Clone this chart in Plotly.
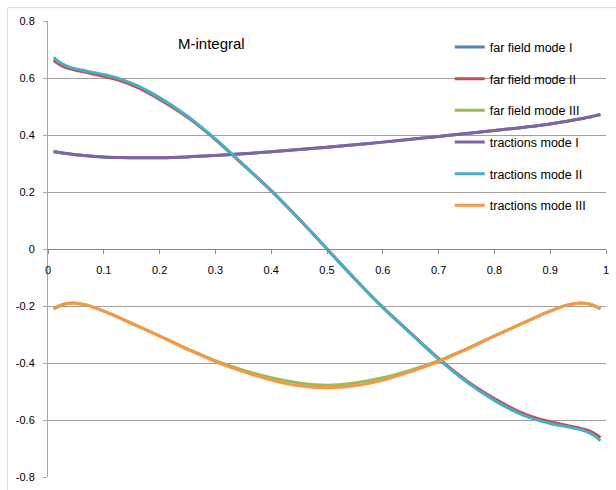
import plotly.graph_objects as go

x = [0.01, 0.02, 0.03, 0.04, 0.05, 0.07, 0.10, 0.13, 0.16, 0.20, 0.25, 0.30, 0.35, 0.40, 0.45,
     0.50, 0.55, 0.60, 0.65, 0.70, 0.75, 0.80, 0.84, 0.87, 0.90, 0.93, 0.95, 0.96, 0.97, 0.98, 0.99]

far_field_I = [0.341, 0.339, 0.336, 0.333, 0.331, 0.327, 0.323, 0.321, 0.320, 0.320, 0.323, 0.328, 0.334, 0.341, 0.349,
               0.357, 0.366, 0.375, 0.385, 0.395, 0.405, 0.416, 0.424, 0.431, 0.439, 0.448, 0.455, 0.459, 0.463, 0.467, 0.472]
tractions_I = [0.341, 0.339, 0.336, 0.333, 0.331, 0.327, 0.323, 0.321, 0.320, 0.320, 0.323, 0.328, 0.334, 0.341, 0.349,
               0.357, 0.366, 0.375, 0.385, 0.395, 0.405, 0.416, 0.424, 0.431, 0.439, 0.448, 0.455, 0.459, 0.463, 0.467, 0.472]

far_field_II = [0.662, 0.648, 0.638, 0.632, 0.627, 0.619, 0.606, 0.590, 0.567, 0.525, 0.462, 0.384, 0.295, 0.205, 0.105,
                0.0, -0.105, -0.205, -0.295, -0.384, -0.462, -0.525, -0.567, -0.590, -0.606, -0.619, -0.627, -0.632, -0.638, -0.648, -0.662]
tractions_II = [0.672, 0.656, 0.645, 0.637, 0.632, 0.624, 0.612, 0.596, 0.573, 0.531, 0.466, 0.386, 0.296, 0.205, 0.105,
                0.0, -0.105, -0.205, -0.296, -0.386, -0.466, -0.531, -0.573, -0.596, -0.612, -0.624, -0.632, -0.637, -0.645, -0.656, -0.672]

far_field_III = [-0.210, -0.200, -0.193, -0.190, -0.190, -0.197, -0.218, -0.243, -0.270, -0.305, -0.350, -0.392, -0.425, -0.452, -0.470,
                 -0.478, -0.470, -0.452, -0.425, -0.392, -0.350, -0.305, -0.270, -0.243, -0.218, -0.197, -0.190, -0.190, -0.193, -0.200, -0.210]
tractions_III = [-0.210, -0.200, -0.193, -0.190, -0.190, -0.197, -0.218, -0.243, -0.270, -0.306, -0.352, -0.395, -0.430, -0.460, -0.480,
                 -0.487, -0.480, -0.460, -0.430, -0.395, -0.352, -0.306, -0.270, -0.243, -0.218, -0.197, -0.190, -0.190, -0.193, -0.200, -0.210]

names = ["far field mode I", "far field mode II", "far field mode III",
         "tractions mode I", "tractions mode II", "tractions mode III"]
series = [far_field_I, far_field_II, far_field_III, tractions_I, tractions_II, tractions_III]
colors = ["#4F81BD", "#C0504D", "#9BBB59", "#8064A2", "#4BACC6", "#F79646"]

x_ticks = [0, 0.1, 0.2, 0.3, 0.4, 0.5, 0.6, 0.7, 0.8, 0.9, 1]
x_tick_labels = ["0", "0.1", "0.2", "0.3", "0.4", "0.5", "0.6", "0.7", "0.8", "0.9", "1"]
y_ticks = [-0.8, -0.6, -0.4, -0.2, 0, 0.2, 0.4, 0.6, 0.8]
y_tick_labels = ["-0.8", "-0.6", "-0.4", "-0.2", "0", "0.2", "0.4", "0.6", "0.8"]

FONT = "Liberation Sans"

fig = go.Figure()
for i, (nm, ys, c) in enumerate(zip(names, series, colors)):
    fig.add_trace(go.Scatter(x=x, y=ys, name=nm, mode="lines",
                             line=dict(color=c, width=3, shape="spline", smoothing=1.0),
                             legendgroup=f"g{i}"))

fig.update_layout(
    width=616, height=490,
    margin=dict(l=48, r=9, t=21, b=7),
    paper_bgcolor="white", plot_bgcolor="white",
    font=dict(family=FONT, size=11, color="black"),
    showlegend=True,
    legend=dict(x=0.72, y=0.975, xanchor="left", yanchor="top",
                bgcolor="rgba(0,0,0,0)", font=dict(size=12.5, family=FONT),
                tracegroupgap=12.4, itemwidth=30),
    xaxis=dict(range=[0, 1], tickvals=x_ticks, ticktext=x_tick_labels,
               anchor="free", position=0.5, showline=True, linecolor="#868686", linewidth=1,
               ticks="outside", ticklen=4, tickcolor="#868686", showgrid=False, zeroline=False,
               ticklabelstandoff=7,
               tickfont=dict(size=11, family=FONT)),
    yaxis=dict(range=[-0.8, 0.8], tickvals=y_ticks, ticktext=y_tick_labels,
               showline=True, linecolor="#A6A6A6", linewidth=1,
               ticks="outside", ticklen=4, tickcolor="#A6A6A6",
               ticklabelstandoff=6,
               showgrid=True, gridcolor="#A0A0A0", gridwidth=1, zeroline=False,
               tickfont=dict(size=11, family=FONT)),
    annotations=[dict(text="M-integral", x=0.293, y=0.72, xref="x", yref="y",
                      showarrow=False, font=dict(size=15, family=FONT))],
    shapes=[dict(type="rect", xref="paper", yref="paper",
                 x0=(7.5 - 48) / 559, x1=(640 - 48) / 559,
                 y0=(483 - 520) / 462, y1=(483 - 7.5) / 462,
                 line=dict(color="#D9D9D9", width=1), fillcolor="rgba(0,0,0,0)", layer="below")],
)

fig.write_html("out.html", config={"displayModeBar": False},
               post_script="document.body.style.margin='0';document.body.style.overflow='hidden';")
